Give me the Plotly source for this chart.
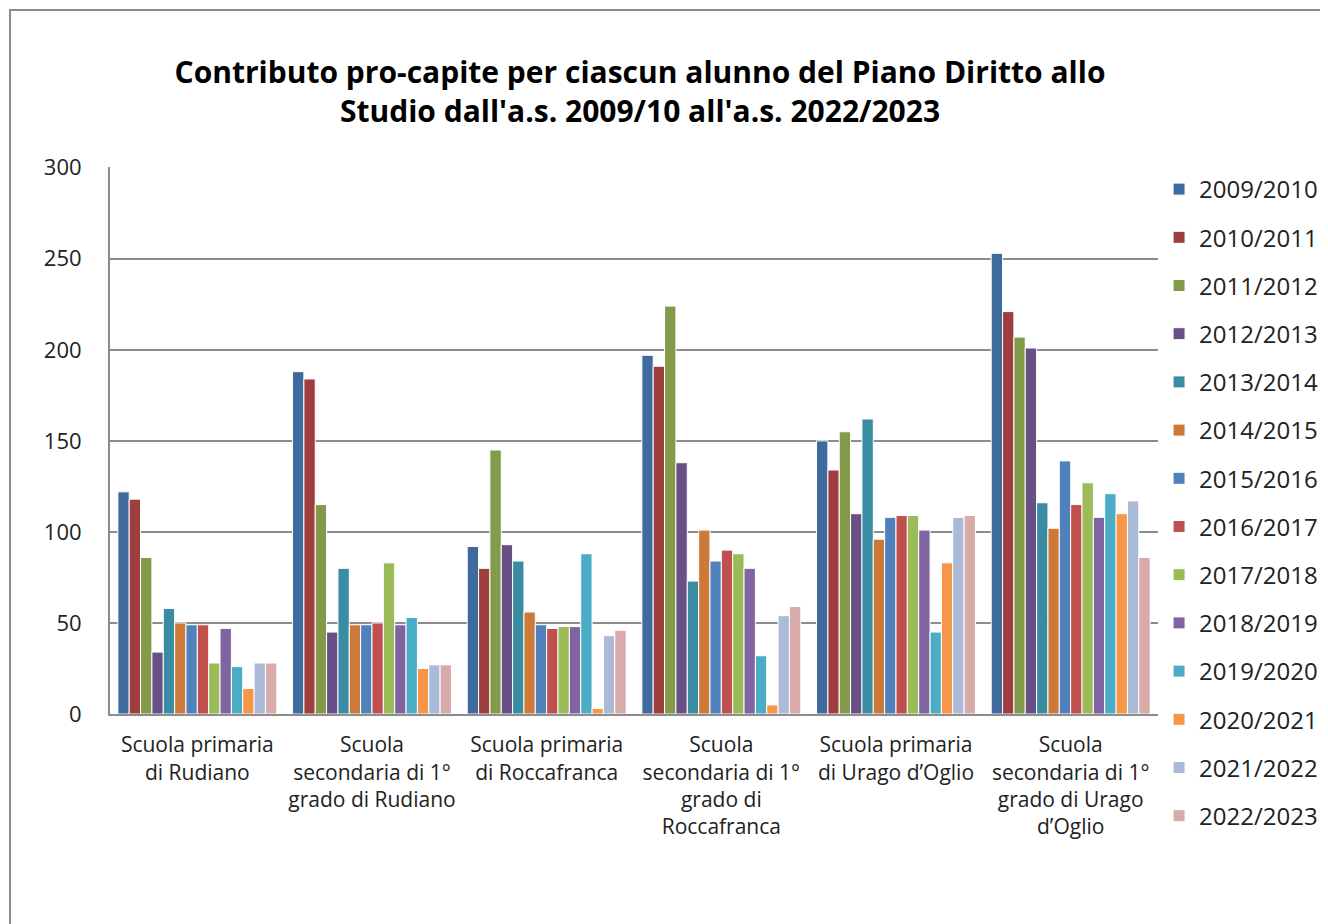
import plotly.graph_objects as go

categories = [
    "Scuola primaria<br>di Rudiano",
    "Scuola<br>secondaria di 1°<br>grado di Rudiano",
    "Scuola primaria<br>di Roccafranca",
    "Scuola<br>secondaria di 1°<br>grado di<br>Roccafranca",
    "Scuola primaria<br>di Urago d’Oglio",
    "Scuola<br>secondaria di 1°<br>grado di Urago<br>d’Oglio",
]

years = ["2009/2010", "2010/2011", "2011/2012", "2012/2013", "2013/2014",
         "2014/2015", "2015/2016", "2016/2017", "2017/2018", "2018/2019",
         "2019/2020", "2020/2021", "2021/2022", "2022/2023"]

v_2009_2010 = [122, 188, 92, 197, 150, 253]
v_2010_2011 = [118, 184, 80, 191, 134, 221]
v_2011_2012 = [86, 115, 145, 224, 155, 207]
v_2012_2013 = [34, 45, 93, 138, 110, 201]
v_2013_2014 = [58, 80, 84, 73, 162, 116]
v_2014_2015 = [50, 49, 56, 101, 96, 102]
v_2015_2016 = [49, 49, 49, 84, 108, 139]
v_2016_2017 = [49, 50, 47, 90, 109, 115]
v_2017_2018 = [28, 83, 48, 88, 109, 127]
v_2018_2019 = [47, 49, 48, 80, 101, 108]
v_2019_2020 = [26, 53, 88, 32, 45, 121]
v_2020_2021 = [14, 25, 3, 5, 83, 110]
v_2021_2022 = [28, 27, 43, 54, 108, 117]
v_2022_2023 = [28, 27, 46, 59, 109, 86]

series = [v_2009_2010, v_2010_2011, v_2011_2012, v_2012_2013, v_2013_2014,
          v_2014_2015, v_2015_2016, v_2016_2017, v_2017_2018, v_2018_2019,
          v_2019_2020, v_2020_2021, v_2021_2022, v_2022_2023]

colors = ["#3E6A9E", "#9E3E3E", "#829A4A", "#684F85", "#3A8CA2", "#CC7A3A",
          "#4F81BD", "#C0504D", "#9BBB59", "#8064A2", "#4BACC6", "#F79646",
          "#AABAD7", "#D9AAAA"]

fig = go.Figure()
for i, (name, vals) in enumerate(zip(years, series)):
    fig.add_trace(go.Bar(
        x=categories, y=vals, name=name, legendgroup=name,
        marker=dict(color=colors[i], line=dict(color="white", width=1)),
    ))

font_family = "Open Sans, Noto Sans, DejaVu Sans, sans-serif"

# page body has an 8px margin: figure sized so it fits in the window
W, H = 1320, 916
L, T, R, B = 102, 159, 170, 210
plot_w = W - L - R
plot_h = H - T - B

fig.update_layout(
    width=W, height=H,
    barmode="group", bargap=0.09, bargroupgap=0.0,
    paper_bgcolor="white", plot_bgcolor="white",
    margin=dict(l=L, r=R, t=T, b=B, autoexpand=False),
    title=dict(
        text="<b>Contributo pro-capite per ciascun alunno del Piano Diritto allo<br>Studio dall'a.s. 2009/10 all'a.s. 2022/2023</b>",
        x=(640 - 8) / W, xanchor="center", y=1 - (83 - 8) / H, yanchor="middle",
        font=dict(family=font_family, size=30, color="black"),
    ),
    font=dict(family=font_family, color="#222222"),
    xaxis=dict(
        showline=True, linecolor="#8c8c8c", linewidth=2,
        tickfont=dict(size=21, color="#222222"), ticks="",
        ticklabelstandoff=11,
    ),
    yaxis=dict(
        range=[0, 300.4], tickvals=[0, 50, 100, 150, 200, 250, 300],
        showgrid=True, gridcolor="#8c8c8c", gridwidth=2,
        showline=True, linecolor="#8c8c8c", linewidth=2,
        tickfont=dict(size=22, color="#222222"), ticks="", zeroline=False,
        ticklabelstandoff=22,
    ),
    legend=dict(
        x=1.001, xanchor="left", y=1.0, yanchor="top",
        font=dict(size=24, color="#222222"), tracegroupgap=14,
        itemwidth=30, bgcolor="rgba(0,0,0,0)", maxheight=800,
    ),
    shapes=[dict(
        type="rect", xref="paper", yref="paper",
        x0=(10 - 8 - L) / plot_w, x1=1.4,
        y0=-0.6, y1=(H - B - (10 - 8)) / plot_h,
        line=dict(color="#8c8c8c", width=2), layer="below",
    )],
)

fig.write_html("out.html")
